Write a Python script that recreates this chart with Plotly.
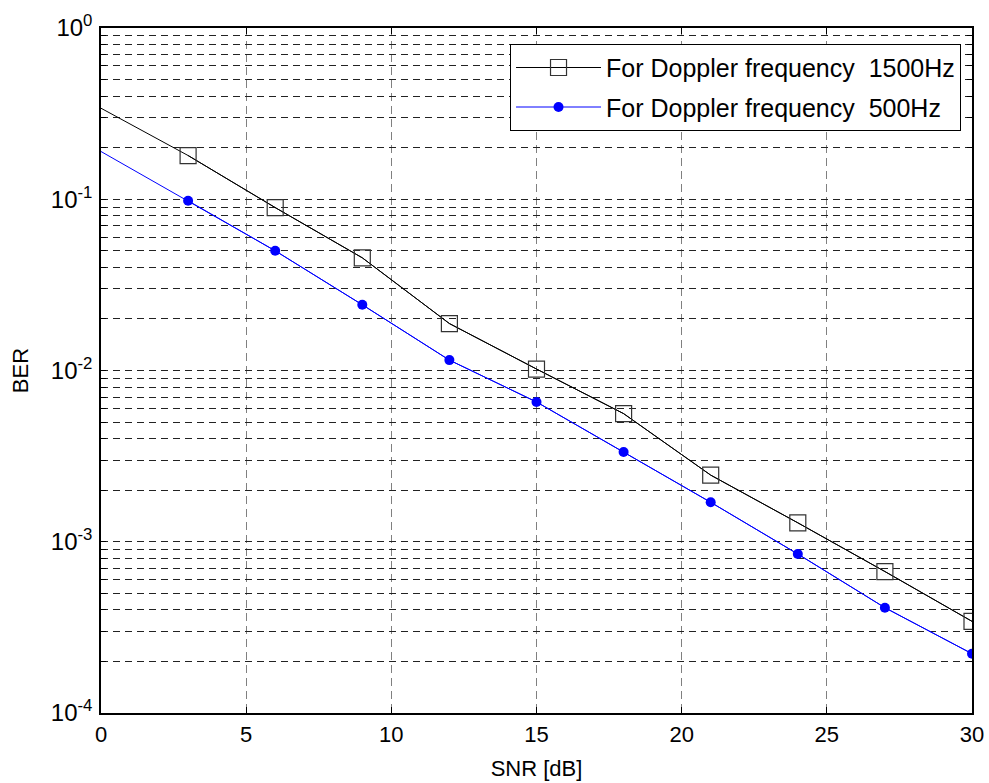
import plotly.graph_objects as go

snr = [0, 3, 6, 9, 12, 15, 18, 21, 24, 27, 30]
ber_1500 = [0.34, 0.18, 0.0894, 0.0455, 0.0188, 0.0102, 0.0056, 0.00245, 0.00129, 0.00067, 0.000343]
ber_500 = [0.19, 0.098, 0.050, 0.0242, 0.0115, 0.00655, 0.00334, 0.00170, 0.000848, 0.000412, 0.000222]

name_1500 = "For Doppler frequency  1500Hz"
name_500 = "For Doppler frequency  500Hz"

x_ticks = [0, 5, 10, 15, 20, 25, 30]
decades = [-4, -3, -2, -1, 0]

y_tickvals = []
y_ticktext = []
for k in decades:
    for m in range(1, 10):
        if k == 0 and m > 1:
            break
        y_tickvals.append(m * 10.0 ** k)
        y_ticktext.append(f"10<sup>{k}</sup>" if m == 1 else "")

FONT = "Liberation Sans, Arial, Helvetica, sans-serif"
FS = 22

fig = go.Figure()

# full-range lines (start at SNR 0)
fig.add_trace(go.Scatter(x=snr, y=ber_1500, mode="lines",
                         line=dict(color="black", width=1), showlegend=False, hoverinfo="skip"))
fig.add_trace(go.Scatter(x=snr, y=ber_500, mode="lines",
                         line=dict(color="#0000FF", width=1), showlegend=False, hoverinfo="skip"))
# marked points
fig.add_trace(go.Scatter(x=snr[1:], y=ber_1500[1:], mode="lines+markers", name=name_1500,
                         legendgroup="a",
                         line=dict(color="black", width=1),
                         marker=dict(symbol="square-open", size=16, color="#333333",
                                     line=dict(width=1.2, color="#333333"))))
fig.add_trace(go.Scatter(x=snr[1:], y=ber_500[1:], mode="lines+markers", name=name_500,
                         legendgroup="b",
                         line=dict(color="#0000FF", width=1),
                         marker=dict(symbol="circle", size=10, color="#0000FF")))

fig.update_layout(
    width=989, height=783,
    margin=dict(l=101, r=17, t=28, b=70),
    paper_bgcolor="white", plot_bgcolor="white",
    font=dict(family=FONT, size=FS, color="black"),
    legend=dict(x=0.9874, y=0.977, xanchor="right", yanchor="top",
                bgcolor="white", bordercolor="black", borderwidth=1,
                font=dict(family=FONT, size=25, color="black"),
                itemwidth=85, traceorder="grouped", tracegroupgap=4),
)

fig.update_xaxes(
    range=[0, 30], tickvals=x_ticks, ticktext=[str(v) for v in x_ticks],
    showline=True, linecolor="black", linewidth=1.5, mirror="ticks",
    ticks="inside", ticklen=6, tickcolor="black",
    showgrid=True, gridcolor="#808080", griddash="8px,5px", gridwidth=1,
    zeroline=False, ticklabelstandoff=1, automargin=False,
    title=dict(text="SNR [dB]", standoff=14, font=dict(size=FS)),
    tickfont=dict(size=FS),
)
fig.update_yaxes(
    type="log", range=[-4, 0], tickvals=y_tickvals, ticktext=y_ticktext,
    showline=True, linecolor="black", linewidth=1.5, mirror="ticks",
    ticks="inside", ticklen=5, tickcolor="black",
    showgrid=True, gridcolor="#222222", griddash="7px,5px", gridwidth=1,
    zeroline=False, ticklabelstandoff=2, automargin=False,
    title=dict(text="BER", standoff=16, font=dict(size=FS)),
    tickfont=dict(size=FS + 2),
)

fig.write_html("out.html", config={"displayModeBar": False},
               post_script="document.body.style.margin='0';")
